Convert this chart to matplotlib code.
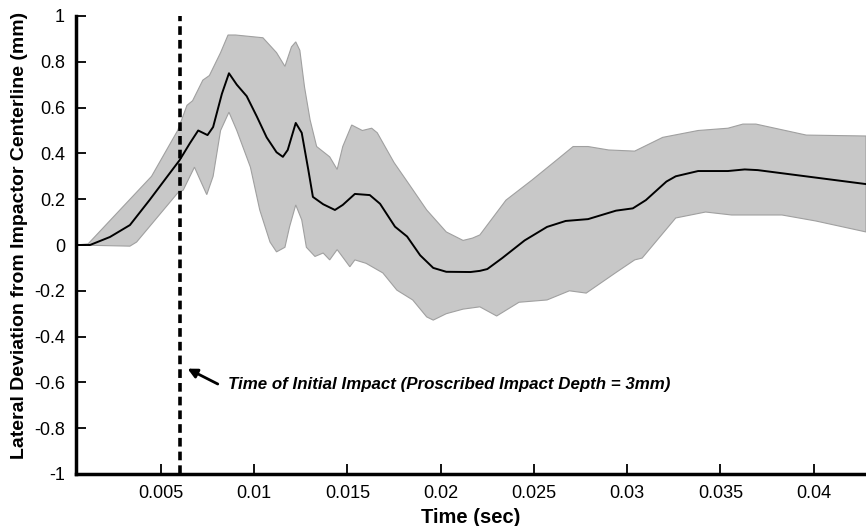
import matplotlib
matplotlib.use("Agg")
import matplotlib.pyplot as plt

plt.rcParams['font.family'] = ['Liberation Sans', 'DejaVu Sans']

# mean lateral deviation (mm) vs time (s)
mean_t = [0.00045, 0.0012, 0.00227, 0.00334, 0.0044, 0.00548, 0.0060, 0.00656, 0.0070, 0.0075,
          0.0078, 0.00827, 0.00865, 0.00907, 0.0096, 0.01015, 0.01067, 0.0112, 0.01154, 0.0118,
          0.01223, 0.01255, 0.0129, 0.01315, 0.0137, 0.01433, 0.01475, 0.0154, 0.0162, 0.01675,
          0.01755, 0.0182, 0.0189, 0.0196, 0.0203, 0.0216, 0.0221, 0.0225, 0.0233, 0.0245,
          0.0257, 0.0267, 0.0279, 0.0294, 0.0303, 0.0310, 0.0321, 0.0326, 0.0338, 0.0354,
          0.0363, 0.0370, 0.0428]
mean_y = [0.0, 0.0, 0.035, 0.087, 0.197, 0.314, 0.37, 0.445, 0.50, 0.48,
          0.515, 0.66, 0.75, 0.70, 0.65, 0.56, 0.47, 0.405, 0.385, 0.415,
          0.533, 0.49, 0.33, 0.21, 0.178, 0.153, 0.175, 0.223, 0.218, 0.18,
          0.08, 0.037, -0.045, -0.10, -0.117, -0.118, -0.113, -0.105, -0.057, 0.02,
          0.079, 0.105, 0.113, 0.15, 0.16, 0.196, 0.277, 0.30, 0.323, 0.323,
          0.33, 0.327, 0.266]

# upper bound of the shaded band
upper_t = [0.00045, 0.0011, 0.0030, 0.0045, 0.0059, 0.0064, 0.0067, 0.00725, 0.0076, 0.0082,
           0.0086, 0.0090, 0.01047, 0.0112, 0.01165, 0.0120, 0.01223, 0.01245, 0.0127, 0.0130,
           0.01335, 0.01405, 0.01445, 0.01475, 0.01523, 0.0158, 0.0163, 0.0166, 0.0175, 0.01835,
           0.01925, 0.0203, 0.0212, 0.0217, 0.0221, 0.0235, 0.0249, 0.0262, 0.0271, 0.0279,
           0.0290, 0.0304, 0.0319, 0.0338, 0.0354, 0.0362, 0.0369, 0.0396, 0.0428]
upper_y = [0.0, 0.005, 0.17, 0.30, 0.50, 0.61, 0.63, 0.72, 0.74, 0.84,
           0.917, 0.917, 0.905, 0.84, 0.78, 0.865, 0.887, 0.85, 0.69, 0.546,
           0.43, 0.385, 0.33, 0.43, 0.524, 0.50, 0.51, 0.49, 0.36, 0.26,
           0.153, 0.057, 0.02, 0.03, 0.044, 0.196, 0.284, 0.37, 0.43, 0.43,
           0.415, 0.41, 0.47, 0.50, 0.51, 0.528, 0.528, 0.48, 0.476]

# lower bound of the shaded band
lower_t = [0.00045, 0.00334, 0.0037, 0.0059, 0.0062, 0.00656, 0.0068, 0.0071, 0.00746, 0.0078,
           0.0082, 0.00865, 0.00907, 0.0098, 0.0103, 0.01085, 0.0112, 0.01165, 0.0119, 0.01223,
           0.01255, 0.0128, 0.01326, 0.0137, 0.01405, 0.01445, 0.01513, 0.0154, 0.0160, 0.0169,
           0.01765, 0.0185, 0.01925, 0.0196, 0.0203, 0.0212, 0.0221, 0.0230, 0.0242, 0.0257,
           0.0269, 0.0278, 0.0294, 0.0304, 0.0308, 0.0326, 0.0342, 0.0356, 0.0383, 0.0401,
           0.0428]
lower_y = [0.0, -0.005, 0.013, 0.227, 0.24, 0.30, 0.34, 0.285, 0.22, 0.30,
           0.50, 0.58, 0.50, 0.34, 0.153, 0.013, -0.03, -0.01, 0.08, 0.175,
           0.11, -0.01, -0.05, -0.035, -0.065, -0.02, -0.095, -0.065, -0.08, -0.122,
           -0.197, -0.24, -0.314, -0.328, -0.30, -0.28, -0.27, -0.31, -0.25, -0.24,
           -0.2, -0.21, -0.12, -0.065, -0.057, 0.118, 0.144, 0.131, 0.131, 0.105,
           0.057]

x_ticks = [0.005, 0.01, 0.015, 0.02, 0.025, 0.03, 0.035, 0.04]
x_labels = ['0.005', '0.01', '0.015', '0.02', '0.025', '0.03', '0.035', '0.04']
y_ticks = [-1, -0.8, -0.6, -0.4, -0.2, 0, 0.2, 0.4, 0.6, 0.8, 1]
y_labels = ['-1', '-0.8', '-0.6', '-0.4', '-0.2', '0', '0.2', '0.4', '0.6', '0.8', '1']
impact_time = 0.006
note = 'Time of Initial Impact (Proscribed Impact Depth = 3mm)'

fig = plt.figure(figsize=(8.66, 5.26), dpi=100)
ax = fig.add_axes([76 / 866, 52 / 526, 1 - 76 / 866, 458 / 526])

poly_t = upper_t + lower_t[::-1]
poly_y = upper_y + lower_y[::-1]
ax.fill(poly_t, poly_y, facecolor='#c8c8c8', edgecolor='#a0a0a0', linewidth=0.8, zorder=1)
ax.plot(mean_t, mean_y, color='black', linewidth=1.4, zorder=3,
        solid_joinstyle='round')

ax.axvline(impact_time, color='black', linewidth=2.6, dashes=(2.4, 1.4), zorder=4)

ax.set_xlim(0.00045, 0.0428)
ax.set_ylim(-1, 1)
ax.set_xticks(x_ticks)
ax.set_xticklabels(x_labels)
ax.set_yticks(y_ticks)
ax.set_yticklabels(y_labels)

for s in ['top', 'right']:
    ax.spines[s].set_visible(False)
for s in ['left', 'bottom']:
    ax.spines[s].set_linewidth(2.5)
ax.tick_params(direction='in', length=7, width=1.3, labelsize=13, pad=8)

ax.set_xlabel('Time (sec)', fontsize=14.5, fontweight='bold', labelpad=4)
ax.set_ylabel('Lateral Deviation from Impactor Centerline (mm)', fontsize=14,
              fontweight='bold')
ax.yaxis.set_label_coords(-0.061, 0.52)

ax.text(0.0086, -0.61, note, fontsize=12.2, fontweight='bold', fontstyle='italic',
        va='center', ha='left')
ax.annotate('', xy=(0.00643, -0.54), xytext=(0.00805, -0.607),
            arrowprops=dict(arrowstyle='-|>', color='black', lw=2,
                            mutation_scale=14, shrinkA=0, shrinkB=0))

fig.savefig('out.png', dpi=100)
